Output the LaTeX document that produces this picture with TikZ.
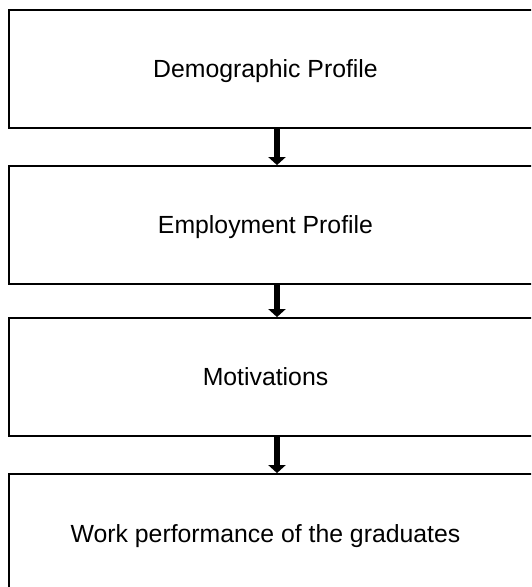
\documentclass[tikz,border=0pt]{standalone}
\usepackage{fontspec}
\setmainfont{Liberation Sans}
\usetikzlibrary{arrows.meta}
\begin{document}
\begin{tikzpicture}[x=1pt,y=-1pt,
  stagebox/.style={draw=black, line width=1.8pt, minimum width=536pt,
    minimum height=118pt, inner sep=0pt, anchor=center},
  stagetext/.style={anchor=base, inner sep=0pt,
    font=\fontsize{24.8}{29}\selectfont},
  flow/.style={line width=6pt, -{Triangle[width=17pt,length=8pt]}}]
  \useasboundingbox (0,0) rectangle (531,587);
  \clip (0,0) rectangle (531,587);
  % stage boxes (they run past the right and bottom edges)
  \node[stagebox] (b1) at (277,69) {};
  \node[stagebox] (b2) at (277,225) {};
  \node[stagebox] (b3) at (277,377) {};
  \node[stagebox] (b4) at (277,533) {};
  % stage labels
  \node[stagetext] (t1) at (265.5,77) {Demographic Profile};
  \node[stagetext] (t2) at (265.5,233) {Employment Profile};
  \node[stagetext] (t3) at (265.5,385) {Motivations};
  \node[stagetext] (t4) at (265.5,542) {Work performance of the graduates};
  % flow arrows between stages
  \draw[flow] (b1.south) -- (b2.north);
  \draw[flow] (b2.south) -- (b3.north);
  \draw[flow] (b3.south) -- (b4.north);
\end{tikzpicture}
\end{document}
